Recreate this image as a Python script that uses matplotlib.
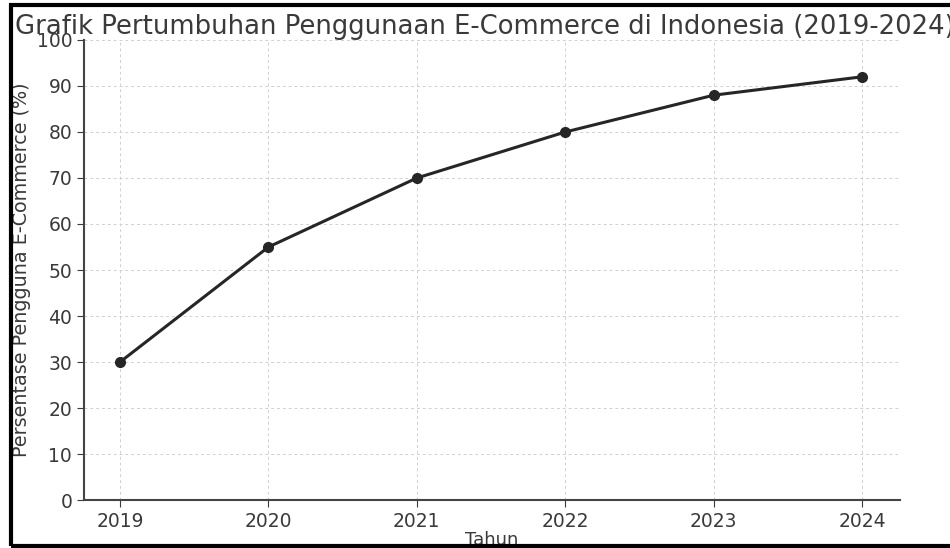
import matplotlib.pyplot as plt
from matplotlib.patches import Rectangle

tahun = [2019, 2020, 2021, 2022, 2023, 2024]
persen = [30, 55, 70, 80, 88, 92]

txt = '#3a3a3a'

fig = plt.figure(figsize=(9.5, 5.48), dpi=100)
ax = fig.add_axes([84 / 950, 1 - 500 / 548, 816 / 950, 460 / 548])

ax.plot(tahun, persen, color='#262626', linewidth=2.2, marker='o', markersize=7)

ax.set_xlim(2018.757, 2024.256)
ax.set_ylim(0, 100)
ax.set_xticks(tahun)
ax.set_yticks(range(0, 101, 10))
ax.grid(True, linestyle=(0, (3, 3)), color='#d0d0d0', linewidth=0.7)

ax.spines['top'].set_visible(False)
ax.spines['right'].set_visible(False)
for s in ['left', 'bottom']:
    ax.spines[s].set_color('#444444')
    ax.spines[s].set_linewidth(1.5)
ax.tick_params(labelsize=13.5, colors=txt, length=5)

ax.set_xlabel('Tahun', fontsize=13, color=txt, labelpad=0)
ax.set_ylabel('Persentase Pengguna E-Commerce (%)', fontsize=13.8, color=txt, labelpad=4)
ax.set_title('Grafik Pertumbuhan Penggunaan E-Commerce di Indonesia (2019-2024)',
             fontsize=18.6, color=txt, pad=-2, x=0.491)

# black frame of the screenshot
fig.patches.append(Rectangle((10.5 / 950, 2 / 548), 1.2, 1 - 7 / 548, transform=fig.transFigure,
                             fill=False, edgecolor='black', linewidth=3, zorder=10))

fig.savefig('out.png', dpi=100)
